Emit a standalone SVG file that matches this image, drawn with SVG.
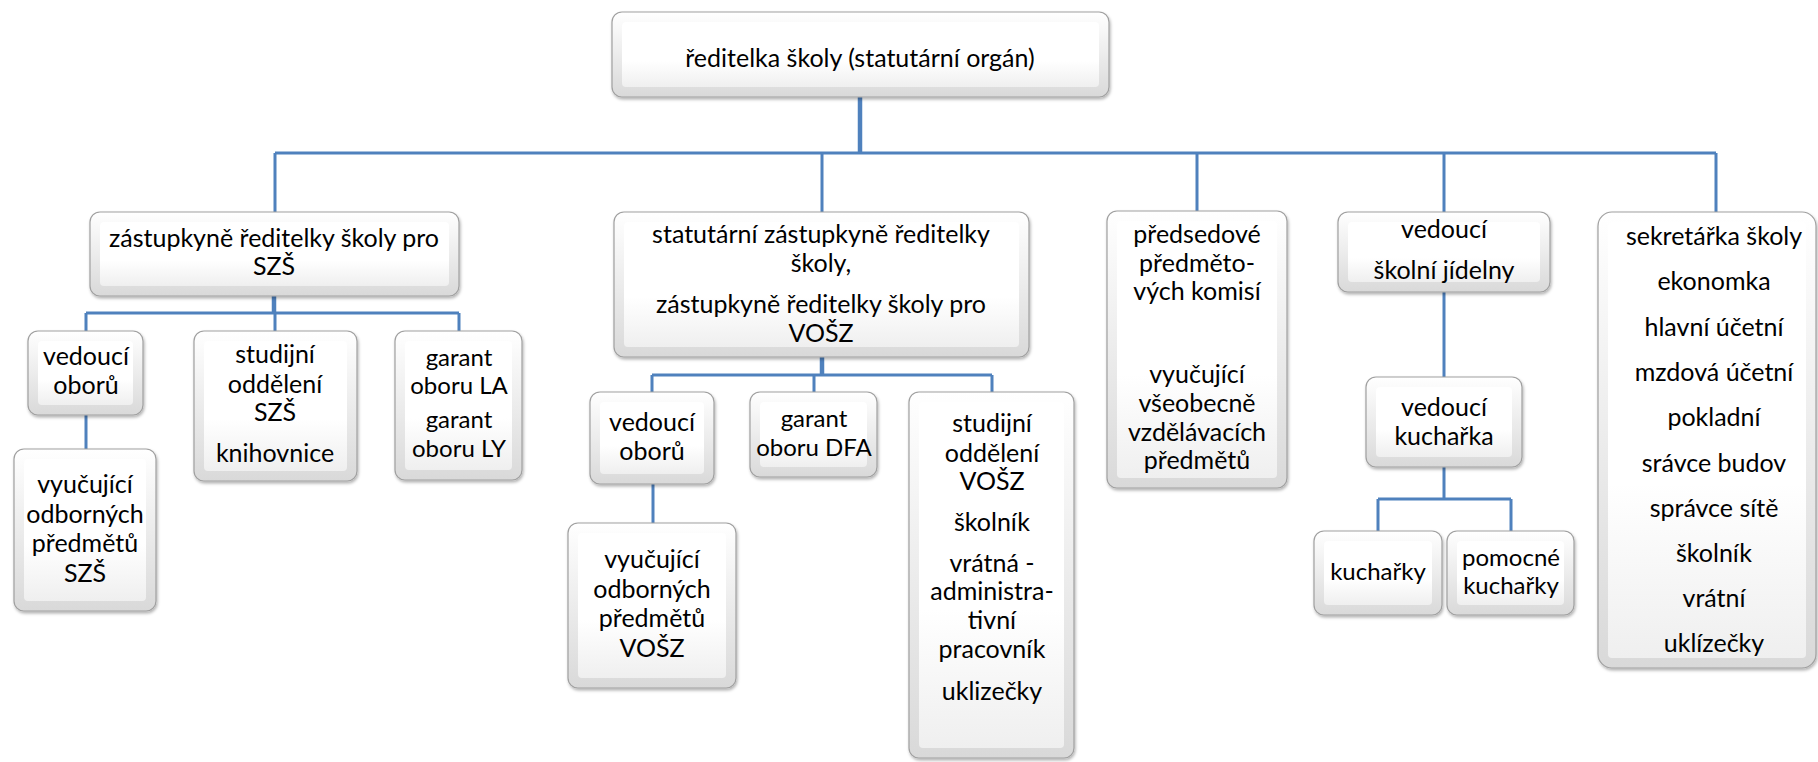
<svg xmlns="http://www.w3.org/2000/svg" width="1818" height="762" viewBox="0 0 1818 762">
<defs>
<linearGradient id="gOuter" x1="0" y1="0" x2="0" y2="1">
<stop offset="0" stop-color="#ffffff"/>
<stop offset="1" stop-color="#d9d9d9"/>
</linearGradient>
<linearGradient id="gInner" x1="0" y1="0" x2="0" y2="1">
<stop offset="0" stop-color="#ffffff"/>
<stop offset="0.6" stop-color="#ffffff"/>
<stop offset="1" stop-color="#efefef"/>
</linearGradient>
<filter id="sh" x="-10%" y="-10%" width="120%" height="120%">
<feDropShadow dx="1" dy="2" stdDeviation="1.5" flood-color="#000" flood-opacity="0.3"/>
</filter>
</defs>
<style>
.o{fill:url(#gOuter);stroke:#a0a0a0;stroke-width:1.2;filter:url(#sh)}
.i{fill:url(#gInner);stroke:none}
text{font-family:Lato,"Liberation Sans",sans-serif;font-size:25px;fill:#000;text-anchor:middle}
text.s{font-size:24px}
.c{fill:none;stroke:#4F81BD;stroke-width:3}
.ct{fill:none;stroke:#4F81BD;stroke-width:4.5}
</style>
<rect width="1818" height="762" fill="#fff"/>
<g id="connectors">
<path class="ct" d="M860 97V153"/>
<path class="c" d="M275 153H1716M275 153V212M822 153V212M1197 153V211M1444 153V212M1716 153V212"/>
<path class="ct" d="M274 296V313"/>
<path class="c" d="M86 313H459M86 313V331M275 313V331M459 313V331"/>
<path class="c" d="M86 415V449"/>
<path class="ct" d="M822 357V375"/>
<path class="c" d="M652 375H992M652 375V392M814 375V392M992 375V392"/>
<path class="c" d="M653 484V523"/>
<path class="c" d="M1444 292V377"/>
<path class="c" d="M1444 467V499M1378 499H1511M1378 499V531M1511 499V531"/>
</g>
<g id="n-reditelka">
<rect class="o" x="612" y="12" width="497" height="85" rx="10"/>
<rect class="i" x="622" y="22" width="477" height="65" rx="4"/>
<text x="860" y="67">ředitelka školy (statutární orgán)</text>
</g>
<g id="n-zast-szs">
<rect class="o" x="90" y="212" width="369" height="84" rx="10"/>
<rect class="i" x="100" y="222" width="349" height="64" rx="4"/>
<text x="274" y="247">zástupkyně ředitelky školy pro</text>
<text x="274" y="275">SZŠ</text>
</g>
<g id="n-ved-oboru-szs">
<rect class="o" x="28" y="331" width="115" height="84" rx="10"/>
<rect class="i" x="38" y="341" width="95" height="64" rx="4"/>
<text x="86" y="365">vedoucí</text>
<text x="86" y="394">oborů</text>
</g>
<g id="n-vyuc-szs">
<rect class="o" x="14" y="449" width="142" height="162" rx="10"/>
<rect class="i" x="24" y="459" width="122" height="142" rx="4"/>
<text x="85" y="493">vyučující</text>
<text x="85" y="523">odborných</text>
<text x="85" y="552">předmětů</text>
<text x="85" y="582">SZŠ</text>
</g>
<g id="n-stud-szs">
<rect class="o" x="194" y="331" width="163" height="150" rx="10"/>
<rect class="i" x="204" y="341" width="143" height="130" rx="4"/>
<text x="275" y="363">studijní</text>
<text x="275" y="393">oddělení</text>
<text x="275" y="421">SZŠ</text>
<text x="275" y="462">knihovnice</text>
</g>
<g id="n-garant-la">
<rect class="o" x="395" y="331" width="127" height="149" rx="10"/>
<rect class="i" x="405" y="341" width="107" height="129" rx="4"/>
<text class="s" x="459" y="366">garant</text>
<text class="s" x="459" y="394">oboru LA</text>
<text class="s" x="459" y="428">garant</text>
<text class="s" x="459" y="457">oboru LY</text>
</g>
<g id="n-statutarni">
<rect class="o" x="614" y="212" width="415" height="145" rx="10"/>
<rect class="i" x="624" y="222" width="395" height="125" rx="4"/>
<text x="821" y="243">statutární zástupkyně ředitelky</text>
<text x="821" y="272">školy,</text>
<text x="821" y="313">zástupkyně ředitelky školy pro</text>
<text x="821" y="342">VOŠZ</text>
</g>
<g id="n-ved-oboru-vosz">
<rect class="o" x="590" y="392" width="124" height="92" rx="10"/>
<rect class="i" x="600" y="402" width="104" height="72" rx="4"/>
<text x="652" y="431">vedoucí</text>
<text x="652" y="460">oborů</text>
</g>
<g id="n-vyuc-vosz">
<rect class="o" x="568" y="523" width="168" height="165" rx="10"/>
<rect class="i" x="578" y="533" width="148" height="145" rx="4"/>
<text x="652" y="568">vyučující</text>
<text x="652" y="598">odborných</text>
<text x="652" y="627">předmětů</text>
<text x="652" y="657">VOŠZ</text>
</g>
<g id="n-garant-dfa">
<rect class="o" x="750" y="392" width="127" height="85" rx="10"/>
<rect class="i" x="760" y="402" width="107" height="65" rx="4"/>
<text class="s" x="814" y="427">garant</text>
<text class="s" x="814" y="456">oboru DFA</text>
</g>
<g id="n-stud-vosz">
<rect class="o" x="909" y="392" width="165" height="366" rx="10"/>
<rect class="i" x="919" y="402" width="145" height="346" rx="4"/>
<text x="992" y="432">studijní</text>
<text x="992" y="462">oddělení</text>
<text x="992" y="490">VOŠZ</text>
<text x="992" y="531">školník</text>
<text x="992" y="572">vrátná -</text>
<text x="992" y="600">administra-</text>
<text x="992" y="629">tivní</text>
<text x="992" y="658">pracovník</text>
<text x="992" y="700">uklizečky</text>
</g>
<g id="n-predsedove">
<rect class="o" x="1107" y="211" width="180" height="277" rx="10"/>
<rect class="i" x="1117" y="221" width="160" height="257" rx="4"/>
<text x="1197" y="243">předsedové</text>
<text x="1197" y="272">předměto-</text>
<text x="1197" y="300">vých komisí</text>
<text x="1197" y="383">vyučující</text>
<text x="1197" y="412">všeobecně</text>
<text x="1197" y="441">vzdělávacích</text>
<text x="1197" y="469">předmětů</text>
</g>
<g id="n-jidelna">
<rect class="o" x="1338" y="212" width="212" height="80" rx="10"/>
<rect class="i" x="1348" y="222" width="192" height="60" rx="4"/>
<text x="1444" y="238">vedoucí</text>
<text x="1444" y="279">školní jídelny</text>
</g>
<g id="n-ved-kucharka">
<rect class="o" x="1366" y="377" width="156" height="90" rx="10"/>
<rect class="i" x="1376" y="387" width="136" height="70" rx="4"/>
<text x="1444" y="416">vedoucí</text>
<text x="1444" y="445">kuchařka</text>
</g>
<g id="n-kucharky">
<rect class="o" x="1314" y="531" width="128" height="84" rx="10"/>
<rect class="i" x="1324" y="541" width="108" height="64" rx="4"/>
<text class="s" x="1378" y="580">kuchařky</text>
</g>
<g id="n-pomocne">
<rect class="o" x="1447" y="531" width="127" height="84" rx="10"/>
<rect class="i" x="1457" y="541" width="107" height="64" rx="4"/>
<text class="s" x="1511" y="566">pomocné</text>
<text class="s" x="1511" y="594">kuchařky</text>
</g>
<g id="n-sekretarka">
<rect class="o" x="1598" y="212" width="218" height="456" rx="14"/>
<rect class="i" x="1608" y="222" width="198" height="436" rx="4"/>
<text x="1714" y="245">sekretářka školy</text>
<text x="1714" y="290">ekonomka</text>
<text x="1714" y="336">hlavní účetní</text>
<text x="1714" y="381">mzdová účetní</text>
<text x="1714" y="426">pokladní</text>
<text x="1714" y="472">srávce budov</text>
<text x="1714" y="517">správce sítě</text>
<text x="1714" y="562">školník</text>
<text x="1714" y="607">vrátní</text>
<text x="1714" y="652">uklízečky</text>
</g>
</svg>
